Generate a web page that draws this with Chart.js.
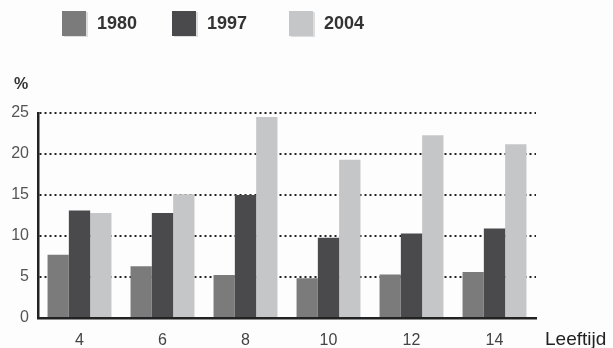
<!DOCTYPE html>
<html>
<head>
<meta charset="utf-8">
<script src="https://cdn.jsdelivr.net/npm/chart.js@4"></script>
<style>
  body { margin: 0; background: #fdfdfd; font-family: "Liberation Sans", Arial, sans-serif; }
  #wrap { position: relative; width: 613px; height: 348px; }
  .item { position: absolute; top: 11px; display: flex; align-items: center; }
  .box { width: 24px; height: 25px; margin-right: 11px; box-shadow: 2px 1px 0 #ddd; }
  .lbl { font-weight: bold; font-size: 18px; color: #333; }
  #pct { position: absolute; left: 14px; top: 75px; font-size: 16px; font-weight: bold; color: #333; }
  #xname { position: absolute; left: 545px; top: 328px; font-size: 19px; color: #222; }
</style>
</head>
<body>
<div id="wrap">
  <canvas id="c" width="613" height="348"></canvas>
  <div id="pct">%</div>
  <div id="xname">Leeftijd</div>
</div>
<script>
const ages = ["4", "6", "8", "10", "12", "14"];
const years = ["1980", "1997", "2004"];
const v1980 = [7.7, 6.3, 5.25, 4.85, 5.3, 5.6];
const v1997 = [13.1, 12.8, 15.0, 9.8, 10.3, 10.9];
const v2004 = [12.8, 15.1, 24.5, 19.3, 22.3, 21.2];
const colors = ["#7b7b7b", "#4a4a4c", "#c5c6c7"];
const legendLeft = [62, 172, 289];

const wrap = document.getElementById("wrap");
years.forEach((y, i) => {
  const el = document.createElement("div");
  el.className = "item";
  el.style.left = legendLeft[i] + "px";
  el.innerHTML = `<div class="box" style="background:${colors[i]}"></div><span class="lbl">${y}</span>`;
  wrap.appendChild(el);
});

new Chart(document.getElementById("c"), {
  type: "bar",
  data: {
    labels: ages,
    datasets: [v1980, v1997, v2004].map((d, i) => ({
      label: years[i],
      data: d,
      backgroundColor: colors[i],
      borderWidth: 0,
      categoryPercentage: 0.77,
      barPercentage: 1
    }))
  },
  options: {
    responsive: false,
    animation: false,
    layout: { padding: { top: 113, right: 77, left: 0, bottom: 0 } },
    plugins: { legend: { display: false }, tooltip: { enabled: false } },
    scales: {
      x: {
        afterFit: s => { s.height = 30; },
        grid: { display: false },
        border: { color: "#222", width: 2.5 },
        ticks: { color: "#444", font: { size: 16, family: "Liberation Sans" }, padding: 5 }
      },
      y: {
        min: 0, max: 25,
        afterFit: s => { s.width = 38; },
        grid: { color: "#222", lineWidth: 2, drawTicks: false },
        border: { color: "#222", width: 2.5, dash: [2, 3] },
        ticks: { stepSize: 5, color: "#555", font: { size: 16, family: "Liberation Sans" }, padding: 9 }
      }
    }
  }
});
</script>
</body>
</html>
